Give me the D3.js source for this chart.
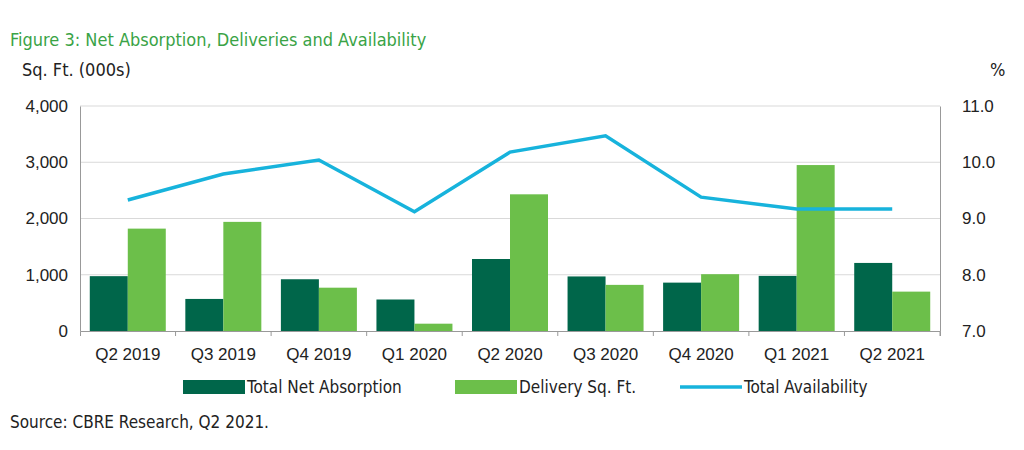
<!DOCTYPE html>
<html>
<head>
<meta charset="utf-8">
<script src="https://cdn.jsdelivr.net/npm/d3@7"></script>
<style>
  body { margin: 0; background: #fff; }
  text { font-family: "Liberation Sans Narrow", "DejaVu Sans Condensed", sans-serif; }
</style>
</head>
<body>
<svg id="chart" width="1024" height="450"></svg>
<script>
const quarters = ["Q2 2019", "Q3 2019", "Q4 2019", "Q1 2020", "Q2 2020", "Q3 2020", "Q4 2020", "Q1 2021", "Q2 2021"];
const netAbsorption = [975, 570, 920, 560, 1280, 970, 860, 980, 1210];
const deliveries = [1820, 1940, 770, 130, 2430, 820, 1010, 2950, 700];
const availability = [9.33, 9.79, 10.04, 9.12, 10.18, 10.47, 9.38, 9.17, 9.17];
const leftTicks = [0, 1000, 2000, 3000, 4000];
const rightTicks = [7, 8, 9, 10, 11];

const darkGreen = "#00664a", lightGreen = "#6cbf4a", blue = "#17b3dc";
const svg = d3.select("#chart");
const plotLeft = 80, plotRight = 940, plotTop = 106, plotBottom = 331;

const x = d3.scaleBand().domain(quarters).range([plotLeft, plotRight]);
const y = d3.scaleLinear().domain([0, 4000]).range([plotBottom, plotTop]);
const y2 = d3.scaleLinear().domain([7, 11]).range([plotBottom, plotTop]);

// grid
svg.append("g").selectAll("line").data(leftTicks.slice(1)).join("line")
  .attr("x1", plotLeft).attr("x2", plotRight)
  .attr("y1", d => y(d)).attr("y2", d => y(d))
  .attr("stroke", "#d9d9d9");

// axes
const gl = svg.append("g").attr("transform", `translate(${plotLeft},0)`)
  .call(d3.axisLeft(y).tickValues(leftTicks).tickFormat(d3.format(",")).tickSize(0).tickPadding(12));
const gr = svg.append("g").attr("transform", `translate(${plotRight},0)`)
  .call(d3.axisRight(y2).tickValues(rightTicks).tickSize(0).tickPadding(22));
const gb = svg.append("g").attr("transform", `translate(0,${plotBottom})`)
  .call(d3.axisBottom(x).tickSize(5).tickPadding(12));
[gl, gr, gb].forEach(g => {
  g.selectAll("text").attr("font-size", 17).attr("fill", "#222")
    .style("font-family", "'Liberation Sans Narrow', sans-serif");
  g.select(".domain").attr("stroke", "#999");
});
gb.selectAll(".tick line").attr("stroke", "#999").attr("transform", `translate(${x.bandwidth() / 2},0)`);

// bars
const bw = 38;
svg.append("g").selectAll("rect").data(quarters).join("rect")
  .attr("x", d => x(d) + x.bandwidth() / 2 - bw)
  .attr("width", bw)
  .attr("y", (d, i) => y(netAbsorption[i]))
  .attr("height", (d, i) => plotBottom - y(netAbsorption[i]))
  .attr("fill", darkGreen);
svg.append("g").selectAll("rect").data(quarters).join("rect")
  .attr("x", d => x(d) + x.bandwidth() / 2)
  .attr("width", bw)
  .attr("y", (d, i) => y(deliveries[i]))
  .attr("height", (d, i) => plotBottom - y(deliveries[i]))
  .attr("fill", lightGreen);

// line
svg.append("path").datum(availability)
  .attr("fill", "none").attr("stroke", blue).attr("stroke-width", 3.5)
  .attr("d", d3.line().x((d, i) => x(quarters[i]) + x.bandwidth() / 2).y(d => y2(d)));

// titles
svg.append("text").attr("x", 10).attr("y", 46).attr("font-size", 18).attr("fill", "#3aa346")
  .text("Figure 3: Net Absorption, Deliveries and Availability");
svg.append("text").attr("x", 22).attr("y", 76).attr("font-size", 18).attr("fill", "#222").text("Sq. Ft. (000s)");
svg.append("text").attr("x", 990).attr("y", 76).attr("font-size", 18).attr("fill", "#222").text("%");

// legend
const legend = [
  { label: "Total Net Absorption", color: darkGreen, x: 183, type: "rect" },
  { label: "Delivery Sq. Ft.", color: lightGreen, x: 455, type: "rect" },
  { label: "Total Availability", color: blue, x: 680, type: "line" }
];
const lg = svg.append("g").selectAll("g").data(legend).join("g")
  .attr("transform", d => `translate(${d.x},388)`);
lg.filter(d => d.type === "rect").append("rect")
  .attr("x", 0).attr("y", -8).attr("width", 62).attr("height", 14).attr("fill", d => d.color);
lg.filter(d => d.type === "line").append("line")
  .attr("x1", 0).attr("x2", 62).attr("y1", -1).attr("y2", -1)
  .attr("stroke", d => d.color).attr("stroke-width", 3.5);
lg.append("text").attr("x", 64).attr("y", 5).attr("font-size", 17).attr("fill", "#222").text(d => d.label);

svg.append("text").attr("x", 10).attr("y", 428).attr("font-size", 17).attr("fill", "#222")
  .text("Source: CBRE Research, Q2 2021.");
</script>
</body>
</html>
